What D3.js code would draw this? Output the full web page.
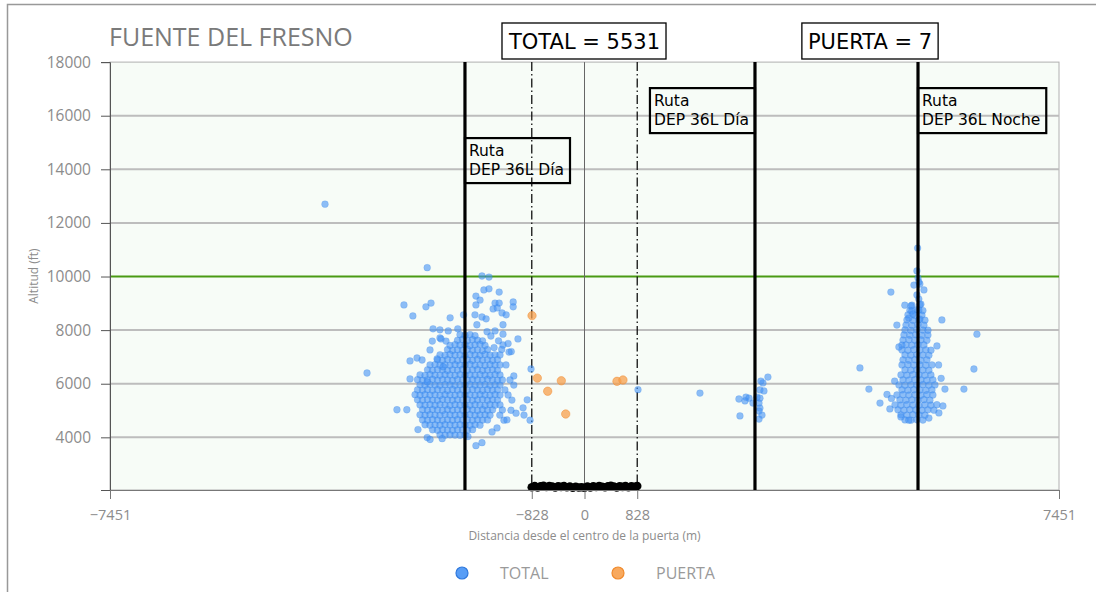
<!DOCTYPE html>
<html><head><meta charset="utf-8">
<script src="https://cdn.jsdelivr.net/npm/d3@7"></script>
<style>body{margin:0;background:#fff}svg{display:block}</style>
</head><body><svg id="c" width="1096" height="592"></svg>
<script>
// ---------- data ----------
const title = "FUENTE DEL FRESNO";
const xTicks = [-7451, -828, 0, 828, 7451];
const yTicks = [4000, 6000, 8000, 10000, 12000, 14000, 16000, 18000];
const xDomain = [-7451, 7451];
const yDomain = [2035, 18000];
const gateEdges = [-828, 828];
const limitAlt = 10000;
const totalCount = 5531;
const gateCount = 7;
const routeX = [-1877, 2677, 5237];
const routeLine1 = ["Ruta", "Ruta", "Ruta"];
const routeLine2 = ["DEP 36L Día", "DEP 36L Día", "DEP 36L Noche"];
const routeLabelAlt = [15165, 17030, 17030];
const routeLabelSide = ["right", "left", "right"];
const legendNames = ["TOTAL", "PUERTA"];

// TOTAL tracks: west cluster core
const totalWestCore = [
[-1955,7830],[-1876,7800],[-1798,7835],[-1719,7790],
[-1994,7620],[-1915,7650],[-1837,7610],[-1758,7640],[-1680,7625],[-1601,7600],
[-2112,7430],[-2033,7460],[-1955,7440],[-1876,7455],[-1798,7420],[-1719,7450],[-1641,7470],[-1562,7430],
[-2151,7270],[-2072,7240],[-1994,7265],[-1915,7250],[-1837,7280],[-1758,7245],[-1680,7260],[-1601,7235],[-1523,7270],
[-2269,7080],[-2190,7060],[-2112,7090],[-2033,7065],[-1955,7075],[-1876,7050],[-1798,7085],[-1719,7070],[-1641,7060],[-1562,7095],[-1484,7065],[-1405,7080],
[-2308,6890],[-2229,6870],[-2151,6900],[-2072,6880],[-1994,6865],[-1915,6895],[-1837,6885],[-1758,6870],[-1680,6905],[-1601,6880],[-1523,6890],[-1444,6870],[-1366,6895],
[-2426,6700],[-2347,6715],[-2269,6690],[-2190,6705],[-2112,6685],[-2033,6710],[-1955,6695],[-1876,6700],[-1798,6720],[-1719,6690],[-1641,6705],[-1562,6680],[-1484,6710],[-1405,6695],[-1327,6700],
[-2465,6520],[-2386,6500],[-2308,6525],[-2229,6510],[-2151,6495],[-2072,6520],[-1994,6505],[-1915,6530],[-1837,6500],[-1758,6515],[-1680,6525],[-1601,6495],[-1523,6510],[-1444,6520],[-1366,6500],
[-2583,6330],[-2504,6310],[-2426,6340],[-2347,6320],[-2269,6315],[-2190,6335],[-2112,6325],[-2033,6310],[-1955,6340],[-1876,6320],[-1798,6330],[-1719,6315],[-1641,6335],[-1562,6320],[-1484,6310],[-1405,6340],[-1327,6325],
[-2622,6150],[-2543,6130],[-2465,6145],[-2386,6160],[-2308,6135],[-2229,6150],[-2151,6140],[-2072,6125],[-1994,6155],[-1915,6140],[-1837,6130],[-1758,6150],[-1680,6145],[-1601,6135],[-1523,6160],[-1444,6140],[-1366,6130],
[-2583,5960],[-2504,5945],[-2426,5970],[-2347,5950],[-2269,5940],[-2190,5965],[-2112,5955],[-2033,5940],[-1955,5960],[-1876,5950],[-1798,5970],[-1719,5945],[-1641,5955],[-1562,5965],[-1484,5940],[-1405,5960],[-1327,5950],
[-2622,5770],[-2543,5760],[-2465,5780],[-2386,5755],[-2308,5775],[-2229,5765],[-2151,5750],[-2072,5780],[-1994,5760],[-1915,5770],[-1837,5755],[-1758,5775],[-1680,5765],[-1601,5750],[-1523,5780],[-1444,5760],[-1366,5770],
[-2661,5590],[-2583,5570],[-2504,5595],[-2426,5575],[-2347,5585],[-2269,5560],[-2190,5590],[-2112,5580],[-2033,5570],[-1955,5595],[-1876,5575],[-1798,5585],[-1719,5565],[-1641,5590],[-1562,5580],[-1484,5570],[-1405,5595],[-1327,5575],
[-2622,5400],[-2543,5385],[-2465,5405],[-2386,5390],[-2308,5380],[-2229,5410],[-2151,5395],[-2072,5385],[-1994,5400],[-1915,5390],[-1837,5405],[-1758,5380],[-1680,5395],[-1601,5410],[-1523,5385],[-1444,5400],[-1366,5390],
[-2583,5210],[-2504,5200],[-2426,5220],[-2347,5195],[-2269,5215],[-2190,5205],[-2112,5190],[-2033,5220],[-1955,5200],[-1876,5210],[-1798,5195],[-1719,5215],[-1641,5205],[-1562,5190],[-1484,5220],[-1405,5200],[-1327,5210],
[-2543,5030],[-2465,5010],[-2386,5035],[-2308,5020],[-2229,5005],[-2151,5030],[-2072,5015],[-1994,5025],[-1915,5010],[-1837,5035],[-1758,5020],[-1680,5005],[-1601,5030],[-1523,5015],[-1444,5025],
[-2583,4840],[-2504,4825],[-2426,4845],[-2347,4830],[-2269,4820],[-2190,4850],[-2112,4835],[-2033,4825],[-1955,4840],[-1876,4830],[-1798,4845],[-1719,4820],[-1641,4835],[-1562,4840],[-1484,4825],
[-2543,4650],[-2465,4640],[-2386,4660],[-2308,4645],[-2229,4635],[-2151,4655],[-2072,4640],[-1994,4660],[-1915,4645],[-1837,4650],[-1758,4635],[-1680,4655],[-1601,4645],[-1523,4650],
[-2504,4470],[-2426,4455],[-2347,4465],[-2269,4450],[-2190,4475],[-2112,4460],[-2033,4455],[-1955,4470],[-1876,4460],[-1798,4450],[-1719,4465],[-1641,4455],
[-2386,4280],[-2308,4265],[-2229,4285],[-2151,4270],[-2072,4260],[-1994,4280],[-1915,4275],[-1837,4265],[-1758,4285],
[-2269,4090],[-2190,4080],[-2112,4095],[-2033,4085],[-1955,4075],[-1876,4090]
];
// TOTAL tracks: west cluster scattered
const totalWestSparse = [
[-4075,12700],[-3415,6400],[-2470,10330],[-2835,8940],[-2695,8530],[-2490,8870],[-2410,9010],
[-2740,6850],[-2630,6960],[-2740,6180],[-2790,5030],[-2615,4290],[-2470,3990],[-2425,3920],[-2235,3950],
[-1705,3690],[-1610,3800],[-1830,4030],[-2470,6070],[-2315,6930],[-2220,6630],[-2378,8050],[-2253,7670],
[-2426,7260],[-2551,6886],[-2945,5030],
[-1610,10020],[-1500,9980],[-1580,9500],[-1500,9540],[-1340,9420],[-1705,9270],[-1640,9120],[-1705,8940],
[-1405,9010],[-1340,9010],[-1120,9050],[-1120,8870],[-1435,8790],[-1370,8830],[-1295,8640],[-1720,8570],
[-1610,8490],[-1545,8420],[-1230,8570],[-2110,8460],[-1900,8570],[-1690,8200],[-1280,8200],[-2270,8010],
[-2140,7970],[-1990,8050],[-1530,7940],[-1405,7970],[-1280,7850],[-1045,7670],[-2390,7590],[-2270,7710],
[-2175,7590],[-1470,7780],[-1350,7600],[-1200,7500],[-1420,7350],[-1300,7280],[-1150,7200],
[-840,6550],[-1110,6290],[-1110,5950],[-965,5100],[-900,5400],[-950,4830],[-855,4640],[-1265,4640],
[-1155,5010],[-1075,4900],[-1200,5580],[-1140,5390],[-1170,6140],[-1233,6700],[-1185,7180],[-1280,7445],
[-1217,4650],[-1374,4350],[-1452,4200],[-1327,7072],[-1290,6140],[-1250,5770],[-1290,5020],[-1330,4830]
];
// TOTAL tracks: near the second route
const totalMiddle = [
[840,5780],[1813,5650],[2425,5430],[2441,4800],[2535,5500],[2583,5460],[2645,5280],[2520,5360],
[2755,5460],[2740,5280],[2755,5090],[2740,4980],[2787,4830],[2740,4680],[2755,5770],[2818,5730],
[2802,6030],[2880,6250],[2770,6100],[2708,5500]
];
// TOTAL tracks: east cluster core
const totalEastCore = [
[5142,8930],[5267,8950],
[5110,8740],[5220,8760],[5314,8730],
[5079,8570],[5189,8550],[5299,8560],
[5063,8380],[5157,8365],[5252,8385],[5346,8370],
[5048,8190],[5142,8180],[5236,8200],[5330,8185],
[5032,8005],[5126,7990],[5220,8010],[5314,8000],[5393,7995],
[5016,7820],[5110,7810],[5204,7825],[5299,7805],[5393,7815],
[5001,7630],[5095,7640],[5189,7625],[5283,7635],[5377,7620],
[4985,7440],[5048,7450],[5142,7440],[5236,7455],[5330,7445],
[4985,7260],[5079,7250],[5173,7270],[5267,7255],[5361,7265],[5440,7250],
[5032,7075],[5126,7065],[5220,7080],[5314,7070],[5408,7060],
[5001,6890],[5095,6880],[5189,6895],[5283,6875],[5377,6890],
[4985,6700],[5079,6710],[5173,6695],[5267,6705],[5361,6690],[5456,6700],
[5032,6515],[5126,6505],[5220,6520],[5314,6510],[5408,6500],
[4969,6330],[5063,6320],[5157,6335],[5252,6325],[5346,6315],[5440,6330],
[5001,6145],[5095,6135],[5189,6150],[5283,6140],[5377,6130],[5471,6145],
[4938,5955],[5032,5945],[5126,5960],[5220,5950],[5314,5965],[5408,5945],[5503,5955],
[4985,5770],[5079,5760],[5173,5775],[5267,5765],[5361,5755],[5456,5770],
[4906,5580],[5001,5590],[5095,5575],[5189,5585],[5283,5570],[5377,5590],[5471,5580],
[4953,5395],[5048,5385],[5142,5400],[5236,5390],[5330,5405],[5424,5385],
[4875,5210],[4969,5200],[5063,5215],[5157,5205],[5252,5195],[5346,5210],[5440,5200],[5534,5215],
[4922,5025],[5016,5015],[5110,5030],[5204,5020],[5299,5010],[5393,5025],[5487,5015],
[4969,4840],[5063,4830],[5157,4845],[5252,4835],[5346,4825],
[5032,4650],[5126,4640],[5220,4655],[5314,4645]
];
// TOTAL tracks: east cluster scattered
const totalEastSparse = [
[5231,11060],[5220,10210],[5237,9950],[5250,9800],[5173,9680],[5266,9720],[4811,9420],[5330,9500],
[5250,9160],[5220,9310],[5030,8930],[5126,8900],[5282,8970],[5250,8750],[5140,8710],[5157,8600],
[5266,8410],[5093,8450],[4905,8190],[5612,8380],[6162,7850],[4937,7370],[5534,7410],[4325,6590],
[6115,6550],[4466,5800],[5958,5800],[4640,5280],[4795,5060],[5660,5800],[5565,4910],[5628,5170],
[5408,4720],[4968,4760],[5093,4640],[4750,5600],[5600,6200],[5560,6700],[4870,6100],[4820,5450]
];
// PUERTA tracks
const gatePts = [[-824,8540],[-741,6210],[-364,6110],[-578,5720],[-295,4870],[510,6090],[604,6140]];
// tracks on the ground inside the gate
const groundPts = [
[-828,2140],[-782,2180],[-736,2130],[-690,2170],[-644,2195],[-598,2145],[-552,2180],[-506,2160],
[-460,2130],[-414,2175],[-368,2150],[-322,2185],[-276,2140],[-230,2165],[-184,2120],[-138,2155],
[-92,2130],[-46,2140],[0,2120],[46,2160],[92,2130],[138,2170],[184,2145],[230,2180],[276,2155],
[322,2135],[368,2175],[414,2190],[460,2160],[506,2130],[552,2175],[598,2150],[644,2180],[690,2140],
[736,2170],[782,2155],[828,2185]
];

// ---------- chart ----------
const svg = d3.select("#c");
const L = 110, R = 1059, T = 62.1, B = 490;
const x = d3.scaleLinear().domain(xDomain).range([L, R]);
const y = d3.scaleLinear().domain(yDomain).range([B, T]);
const gray = "#8c8c8c";
const sans = "'Open Sans', 'Noto Sans', sans-serif";
const dj = "'DejaVu Sans', sans-serif";

// outer frame
svg.append("rect").attr("x", 7.5).attr("y", 4.5).attr("width", 1200).attr("height", 700)
  .attr("fill", "none").attr("stroke", "#999").attr("stroke-width", 1.5);

// plot background
svg.append("rect").attr("x", L).attr("y", T).attr("width", R - L).attr("height", B - T)
  .attr("fill", "#f7fcf7").attr("stroke", "#b0b0b0").attr("stroke-width", 1);

// grid
svg.append("g").selectAll("line").data(yTicks.filter(d => d < 18000)).join("line")
  .attr("x1", L).attr("x2", R).attr("y1", d => y(d)).attr("y2", d => y(d))
  .attr("stroke", d => d === limitAlt ? "#4a9a14" : "#bdbdbd")
  .attr("stroke-width", 2);

// center line
svg.append("line").attr("x1", x(0)).attr("x2", x(0)).attr("y1", T).attr("y2", B)
  .attr("stroke", "#666").attr("stroke-width", 1);

// gate edges dash-dot
svg.append("g").selectAll("line").data(gateEdges).join("line")
  .attr("x1", d => x(d)).attr("x2", d => x(d)).attr("y1", T).attr("y2", B)
  .attr("stroke", "#111").attr("stroke-width", 1.3).attr("stroke-dasharray", "9,3,1.5,3");

// points
const blueFill = "#4592f5", blueStroke = "#2f78dc";
const allTotal = totalWestCore.concat(totalWestSparse, totalMiddle, totalEastCore, totalEastSparse);
svg.append("g").selectAll("circle").data(allTotal).join("circle")
  .attr("cx", d => x(d[0])).attr("cy", d => y(d[1])).attr("r", 3.4)
  .attr("fill", blueFill).attr("fill-opacity", 0.6)
  .attr("stroke", blueStroke).attr("stroke-opacity", 0.3).attr("stroke-width", 0.6);

svg.append("g").selectAll("circle").data(groundPts).join("circle")
  .attr("cx", d => x(d[0])).attr("cy", d => y(d[1])).attr("r", 4.3)
  .attr("fill", "#000");

svg.append("g").selectAll("circle").data(gatePts).join("circle")
  .attr("cx", d => x(d[0])).attr("cy", d => y(d[1])).attr("r", 4.2)
  .attr("fill", "#f7a04d").attr("fill-opacity", 0.75)
  .attr("stroke", "#f08a2c").attr("stroke-opacity", 0.6).attr("stroke-width", 0.8);

// route lines
svg.append("g").selectAll("line").data(routeX).join("line")
  .attr("x1", d => x(d)).attr("x2", d => x(d)).attr("y1", T).attr("y2", B)
  .attr("stroke", "#000").attr("stroke-width", 3.2);

// route labels
routeX.forEach((rx, i) => {
  const g = svg.append("g");
  const top = y(routeLabelAlt[i]);
  const t = g.append("text").attr("font-family", dj).attr("font-size", 15.5).attr("fill", "#000");
  t.append("tspan").attr("x", 0).attr("y", 0).text(routeLine1[i]);
  t.append("tspan").attr("x", 0).attr("y", 19).text(routeLine2[i]);
  const bb = t.node().getBBox();
  const w = bb.width + 10, h = 45;
  const bx = routeLabelSide[i] === "right" ? x(rx) : x(rx) - w;
  t.attr("transform", `translate(${bx + 4},${top + 18})`);
  g.insert("rect", "text").attr("x", bx).attr("y", top).attr("width", w).attr("height", h)
    .attr("fill", "none").attr("stroke", "#000").attr("stroke-width", 2.2);
});

// axes
const yAxis = svg.append("g").attr("transform", `translate(${L},0)`)
  .call(d3.axisLeft(y).tickValues(yTicks).tickSize(9).tickPadding(10).tickFormat(d3.format("d")));
yAxis.select(".domain").attr("stroke", "#555");
yAxis.selectAll(".tick line").attr("stroke", "#555");
yAxis.selectAll("text").attr("fill", gray).attr("font-family", sans).attr("font-size", 15.5);

const xAxis = svg.append("g").attr("transform", `translate(0,${B})`)
  .call(d3.axisBottom(x).tickValues(xTicks).tickSize(9).tickPadding(11).tickFormat(d => d < 0 ? "\u2212" + Math.abs(d) : String(d)));
xAxis.select(".domain").attr("stroke", "#777");
xAxis.selectAll(".tick line").attr("stroke", "#777");
xAxis.selectAll("text").attr("fill", gray).attr("font-family", sans).attr("font-size", 14.5);

// axis titles
svg.append("text").attr("x", x(0)).attr("y", 540).attr("text-anchor", "middle")
  .attr("font-family", sans).attr("font-size", 12).attr("fill", gray)
  .text("Distancia desde el centro de la puerta (m)");
svg.append("text").attr("transform", `translate(38,${(T + B) / 2}) rotate(-90)`)
  .attr("text-anchor", "middle").attr("font-family", sans).attr("font-size", 12).attr("fill", gray)
  .text("Altitud (ft)");

// title
svg.append("text").attr("x", 109).attr("y", 46).attr("font-family", sans).attr("font-size", 25)
  .attr("fill", "#7a7a7a").text(title);

// count boxes
function countBox(cx, label) {
  const g = svg.append("g");
  const t = g.append("text").attr("x", cx).attr("y", 49).attr("text-anchor", "middle")
    .attr("font-family", dj).attr("font-size", 21).attr("fill", "#000").text(label);
  const bb = t.node().getBBox();
  g.insert("rect", "text").attr("x", bb.x - 6).attr("y", 23).attr("width", bb.width + 12).attr("height", 36)
    .attr("fill", "#fff").attr("stroke", "#000").attr("stroke-width", 1.3);
}
countBox(x(0), `TOTAL = ${totalCount}`);
countBox(870, `PUERTA = ${gateCount}`);

// legend
const legColors = [[blueFill, blueStroke], ["#f7a04d", "#f08a2c"]];
const legX = [462, 618];
legendNames.forEach((n, i) => {
  svg.append("circle").attr("cx", legX[i]).attr("cy", 573).attr("r", 6)
    .attr("fill", legColors[i][0]).attr("fill-opacity", 0.9).attr("stroke", legColors[i][1]).attr("stroke-width", 1.2);
  svg.append("text").attr("x", legX[i] + 38).attr("y", 579).attr("font-family", sans).attr("font-size", 16)
    .attr("fill", "#9a9a9a").text(n);
});
</script>
</body></html>
